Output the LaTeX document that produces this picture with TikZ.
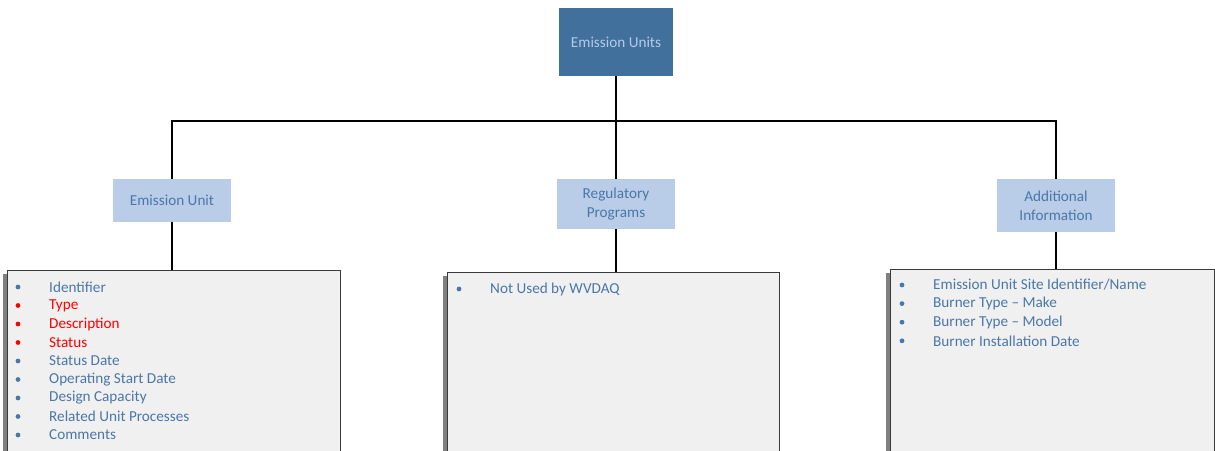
\documentclass[tikz,border=0pt]{standalone}
\usepackage{fontspec}
\setmainfont{Carlito}
\definecolor{topfill}{HTML}{41709C}
\definecolor{toptext}{HTML}{B4CBE8}
\definecolor{subfill}{HTML}{B9CDE8}
\definecolor{itemblue}{HTML}{4A77A8}
\definecolor{itemred}{HTML}{FF0000}
\definecolor{listfill}{HTML}{F0F0F0}
\definecolor{listedge}{HTML}{3A3A3A}
\definecolor{shadowgray}{HTML}{808080}
\tikzset{
  topbox/.style={draw=none, fill=topfill, text=toptext, minimum width=114pt, minimum height=68pt, inner sep=0pt, font=\fontsize{15.2}{18}\selectfont},
  subbox/.style={draw=none, fill=subfill, text=itemblue, minimum width=118pt, inner sep=0pt, align=center, font=\fontsize{15.2}{19}\selectfont},
  listbox/.style={draw=listedge, line width=1pt, fill=listfill, anchor=north west, minimum height=200pt, inner sep=0pt},
  link/.style={draw=black, line width=1.5pt},
  bul/.style={circle, fill=#1, inner sep=0pt, minimum size=4.8pt},
  itemtext/.style={anchor=west, inner sep=0pt, text=#1, font=\fontsize{15.2}{18}\selectfont},
}
\begin{document}
\begin{tikzpicture}[x=1pt, y=-1pt]
\useasboundingbox (0,0) rectangle (1215,450);
\clip (0,0) rectangle (1215,450);

% root and branch headings
\node[topbox] (root) at (616,42) {Emission Units};
\node[subbox, minimum height=43pt] (eu) at (172,200.5) {Emission Unit};
\node[subbox, minimum height=50pt] (rp) at (616,204) {Regulatory\\Programs};
\node[subbox, minimum height=53pt] (ai) at (1056,205.5) {Additional\\Information};

% list panels with their left-hand shadows
\fill[shadowgray] (3,274) rectangle (7,460);
\node[listbox, minimum width=333pt] (eul) at (7,270) {};
\fill[shadowgray] (443,276) rectangle (447,460);
\node[listbox, minimum width=332pt] (rpl) at (447,272) {};
\fill[shadowgray] (886,273) rectangle (890,460);
\node[listbox, minimum width=324pt] (ail) at (890,269) {};

% tree connectors
\coordinate (bus) at (616,121);
\draw[link] (root.south) -- (bus);
\draw[link] (eu.north) |- (bus) -| (ai.north);
\draw[link] (rp.north) -- (rp.north |- bus);
\draw[link] (eu.south) -- (eu.south |- eul.north);
\draw[link] (rp.south) -- (rp.south |- rpl.north);
\draw[link] (ai.south) -- (ai.south |- ail.north);

% Emission Unit items
\foreach \t/\c [count=\i from 0] in {Identifier/itemblue, Type/itemred, Description/itemred, Status/itemred, Status Date/itemblue, Operating Start Date/itemblue, Design Capacity/itemblue, Related Unit Processes/itemblue, Comments/itemblue}{
  \node[bul=\c] (eub\i) at (18,287+18.5*\i) {};
  \node[itemtext=\c] (eut\i) at (49,287+18.5*\i) {\t};
}

% Regulatory Programs items
\node[bul=itemblue] (rpb0) at (459,289) {};
\node[itemtext=itemblue] (rpt0) at (490,289) {Not Used by WVDAQ};

% Additional Information items
\foreach \t [count=\i from 0] in {Emission Unit Site Identifier/Name, Burner Type – Make, Burner Type – Model, Burner Installation Date}{
  \node[bul=itemblue] (aib\i) at (902,285+18.6*\i) {};
  \node[itemtext=itemblue] (ait\i) at (933,285+18.6*\i) {\t};
}
\end{tikzpicture}
\end{document}
